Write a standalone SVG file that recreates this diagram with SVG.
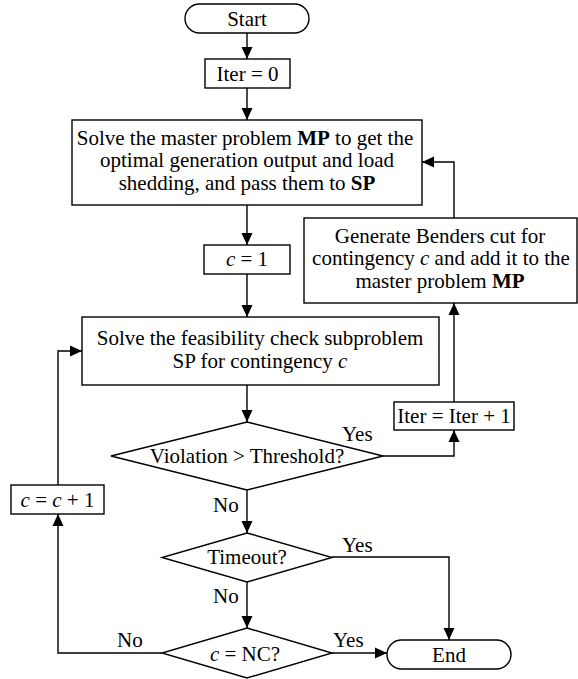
<svg xmlns="http://www.w3.org/2000/svg" width="578" height="679" viewBox="0 0 578 679">
<style>
.s{fill:#fff;stroke:#000;stroke-width:1.4}
.c{fill:none;stroke:#000;stroke-width:1.4}
text{font-family:"Liberation Serif","Times New Roman",Tinos,serif;font-size:21px;fill:#000}
.m{text-anchor:middle}
.i{font-style:italic}
.b{font-weight:bold}
</style>
<defs>
<marker id="ah" viewBox="0 0 12 12" refX="12" refY="6" markerWidth="12" markerHeight="12" markerUnits="userSpaceOnUse" orient="auto">
<path d="M0,0.5 L12,6 L0,11.5 Z" fill="#000"/>
</marker>
</defs>
<rect width="578" height="679" fill="#fff"/>
<g id="connectors">
<line class="c" x1="247" y1="33" x2="247" y2="59" marker-end="url(#ah)"/>
<line class="c" x1="247" y1="88" x2="247" y2="120" marker-end="url(#ah)"/>
<line class="c" x1="247" y1="205" x2="247" y2="245" marker-end="url(#ah)"/>
<line class="c" x1="247" y1="274" x2="247" y2="317" marker-end="url(#ah)"/>
<line class="c" x1="247" y1="385" x2="247" y2="422" marker-end="url(#ah)"/>
<polyline class="c" points="383,456 454,456 454,430" marker-end="url(#ah)"/>
<line class="c" x1="454" y1="402" x2="454" y2="303" marker-end="url(#ah)"/>
<polyline class="c" points="454,218 454,162 422,162" marker-end="url(#ah)"/>
<line class="c" x1="247" y1="490" x2="247" y2="533" marker-end="url(#ah)"/>
<polyline class="c" points="332,557 449,557 449,640" marker-end="url(#ah)"/>
<line class="c" x1="247" y1="582" x2="247" y2="628" marker-end="url(#ah)"/>
<line class="c" x1="332" y1="653" x2="387" y2="653" marker-end="url(#ah)"/>
<polyline class="c" points="162,653 58,653 58,514" marker-end="url(#ah)"/>
<polyline class="c" points="58,485 58,351 82,351" marker-end="url(#ah)"/>
<text x="342" y="441">Yes</text>
<text x="213" y="512">No</text>
<text x="342" y="552">Yes</text>
<text x="213" y="603">No</text>
<text x="117" y="647">No</text>
<text x="333" y="647">Yes</text>
</g>
<g id="start">
<rect class="s" x="185" y="4" width="124" height="29" rx="14.5"/>
<text class="m" x="247" y="26">Start</text>
</g>
<g id="iter0">
<rect class="s" x="205" y="59" width="85" height="29"/>
<text class="m" x="247.5" y="81">Iter = 0</text>
</g>
<g id="master">
<rect class="s" x="72" y="120" width="350" height="85"/>
<text class="m" x="245" y="144.5">Solve the master problem <tspan class="b">MP</tspan> to get the</text>
<text class="m" x="247" y="167">optimal generation output and load</text>
<text class="m" x="247" y="189.5">shedding, and pass them to <tspan class="b">SP</tspan></text>
</g>
<g id="c1">
<rect class="s" x="204" y="245" width="86" height="29"/>
<text class="m" x="247" y="266"><tspan class="i">c</tspan> = 1</text>
</g>
<g id="benders">
<rect class="s" x="304" y="218" width="273" height="85"/>
<text class="m" x="440" y="242.5">Generate Benders cut for</text>
<text class="m" x="441" y="265">contingency <tspan class="i">c</tspan> and add it to the</text>
<text class="m" x="440" y="287.5">master problem <tspan class="b">MP</tspan></text>
</g>
<g id="subproblem">
<rect class="s" x="82" y="317" width="357" height="68"/>
<text class="m" x="260" y="344.5">Solve the feasibility check subproblem</text>
<text class="m" x="260" y="368">SP for contingency <tspan class="i">c</tspan></text>
</g>
<g id="iterinc">
<rect class="s" x="394" y="402" width="120" height="28"/>
<text class="m" x="454" y="423">Iter = Iter + 1</text>
</g>
<g id="violation">
<polygon class="s" points="247,422 383,456 247,490 111,456"/>
<text class="m" x="247" y="463">Violation &gt; Threshold?</text>
</g>
<g id="cinc">
<rect class="s" x="11" y="485" width="93" height="29"/>
<text class="m" x="57.5" y="507"><tspan class="i">c</tspan> = <tspan class="i">c</tspan> + 1</text>
</g>
<g id="timeout">
<polygon class="s" points="247,533 332,557.5 247,582 162,557.5"/>
<text class="m" x="247" y="564">Timeout?</text>
</g>
<g id="cnc">
<polygon class="s" points="247,628 332,653 247,678 162,653"/>
<text class="m" x="245" y="661"><tspan class="i">c</tspan> = NC?</text>
</g>
<g id="end">
<rect class="s" x="387" y="640" width="124" height="29" rx="14.5"/>
<text class="m" x="449" y="662">End</text>
</g>
</svg>
